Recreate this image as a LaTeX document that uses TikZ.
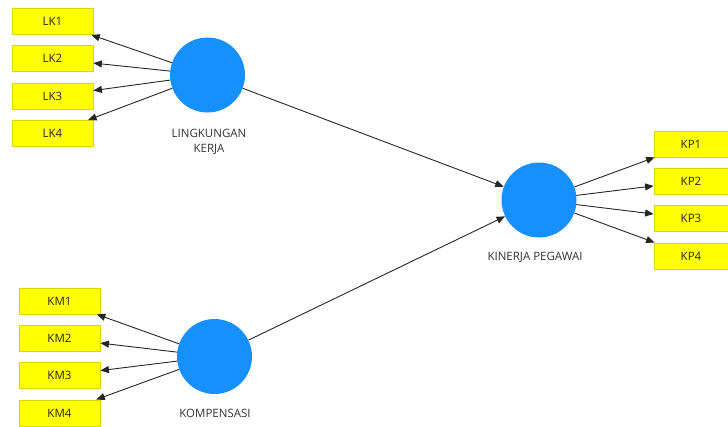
\documentclass[tikz,border=0pt]{standalone}
\usepackage{fontspec}
\setmainfont{Open Sans}
\usepackage{tikz}
\usetikzlibrary{arrows.meta}
\definecolor{lvblue}{RGB}{22,144,255}
\definecolor{indyel}{RGB}{255,255,0}
\definecolor{indedge}{RGB}{214,214,0}
\definecolor{lbltxt}{RGB}{50,50,50}

\begin{document}
\begin{tikzpicture}[x=1pt,y=-1pt,
				lv/.style={circle,fill=lvblue,minimum size=75pt,inner sep=0pt},
				ind/.style={draw=indedge,fill=indyel,line width=0.8pt,
					minimum width=81pt,minimum height=26pt,inner sep=0pt,
					font=\fontsize{11.5}{12}\selectfont,text=black!85},
				lbl/.style={align=center,text=lbltxt,
					font=\fontsize{11.5}{15}\selectfont},
				ld/.style={draw=black!85,line width=0.9pt,
					-{Triangle[length=8.5pt,width=7pt]}}]
				\useasboundingbox (0,0) rectangle (728,426);

				%%%%%%%%%%%%%%%%  latent variables  %%%%%%%%%%%%%%%%
				\node[lv] (lk) at (207.5,75) {};
				\node[lv] (km) at (214.5,356.5) {};
				\node[lv] (kp) at (539,200) {};
				\node[lbl] (lklbl) at (209,142) {LINGKUNGAN\\KERJA};
				\node[lbl] (kmlbl) at (215,413) {KOMPENSASI};
				\node[lbl] (kplbl) at (535,257) {KINERJA PEGAWAI};

				%%%%%%%%%%%%%%%%  indicators  %%%%%%%%%%%%%%%%
				\foreach \i/\y in {1/21.5,2/58.8,3/96.1,4/133.4} {
					\node[ind] (lk\i) at (52.5,\y) {LK\i};
					\draw[ld] (lk) -- (lk\i);
				}
				\foreach \i/\y in {1/301,2/338.3,3/375.6,4/412.9} {
					\node[ind] (km\i) at (59.5,\y) {KM\i};
					\draw[ld] (km) -- (km\i);
				}
				\foreach \i/\y in {1/144,2/181.3,3/218.6,4/255.9} {
					\node[ind,minimum width=74pt] (kp\i) at (691,\y) {KP\i};
					\draw[ld] (kp) -- (kp\i);
				}

				% inner model
				\draw[ld] (lk) -- (kp);
				\draw[ld] (km) -- (kp);
			\end{tikzpicture}
\end{document}
